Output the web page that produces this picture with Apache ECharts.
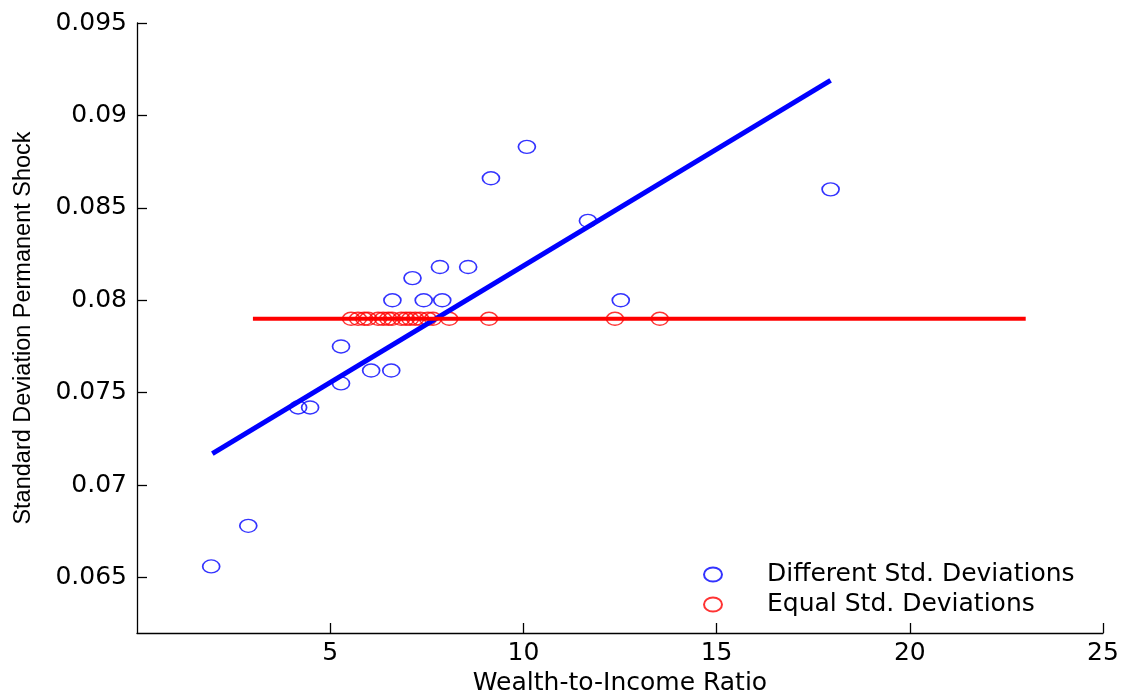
<!DOCTYPE html>
<html>
<head>
<meta charset="utf-8">
<script src="https://cdn.jsdelivr.net/npm/echarts@6/dist/echarts.min.js"></script>
<style>html,body{margin:0;padding:0;background:#fff}#c{width:1125px;height:694px}</style>
</head>
<body>
<div id="c"></div>
<script>
// Different Std. Deviations (blue circles)
const diffX = [1.92, 2.88, 4.17, 4.48, 5.28, 5.28, 6.06, 6.58, 6.61, 7.13, 7.42, 7.90, 7.84, 8.57, 9.16, 10.09, 11.67, 12.52, 17.95];
const diffY = [0.0656, 0.0678, 0.0742, 0.0742, 0.0775, 0.0755, 0.0762, 0.0762, 0.0800, 0.0812, 0.0800, 0.0800, 0.0818, 0.0818, 0.0866, 0.0883, 0.0843, 0.0800, 0.0860];
// Equal Std. Deviations (red circles)
const eqX = [5.54, 5.72, 5.88, 5.98, 6.24, 6.37, 6.50, 6.60, 6.84, 6.96, 7.07, 7.20, 7.33, 7.53, 7.66, 8.08, 9.11, 12.37, 13.53];
const eqY = [0.079, 0.079, 0.079, 0.079, 0.079, 0.079, 0.079, 0.079, 0.079, 0.079, 0.079, 0.079, 0.079, 0.079, 0.079, 0.079, 0.079, 0.079, 0.079];
// fitted lines
const diffFitX = [1.95, 17.95];
const diffFitY = [0.0717, 0.0919];
const eqFitX = [3, 23];
const eqFitY = [0.079, 0.079];
// ticks
const xTicks = [5, 10, 15, 20, 25];
const yTicks = [0.065, 0.07, 0.075, 0.08, 0.085, 0.09, 0.095];
const yTickLabels = ['0.065', '0.07', '0.075', '0.08', '0.085', '0.09', '0.095'];

const zip = (a, b) => a.map((v, i) => [v, b[i]]);
const ellipse = 'path://M0,50 A50,50 0 1,1 100,50 A50,50 0 1,1 0,50 Z';
const FONT = 'DejaVu Sans';

const chart = echarts.init(document.getElementById('c'), null, {renderer: 'canvas'});
chart.setOption({
  animation: false,
  backgroundColor: '#fff',
  grid: {left: 137, right: 22, top: 23, bottom: 61, containLabel: false, outerBoundsMode: 'none'},
  xAxis: {
    type: 'value', min: 0, max: 25,
    name: 'Wealth-to-Income Ratio', nameLocation: 'middle', nameGap: 37,
    nameTextStyle: {fontFamily: FONT, fontSize: 25, color: '#000'},
    axisLine: {show: true, lineStyle: {color: '#000', width: 1.3}},
    axisTick: {show: true, inside: true, length: 10, lineStyle: {color: '#000', width: 1.3}, customValues: xTicks},
    axisLabel: {fontFamily: FONT, fontSize: 25, color: '#000', margin: 8, customValues: xTicks},
    splitLine: {show: false}
  },
  yAxis: {
    type: 'value', min: 0.062, max: 0.095,
    name: 'Standard Deviation Permanent Shock', nameLocation: 'middle', nameGap: 101,
    nameTextStyle: {fontFamily: 'Liberation Sans', fontSize: 23.5, color: '#000'},
    axisLine: {show: true, lineStyle: {color: '#000', width: 1.3}},
    axisTick: {show: true, inside: true, length: 10, lineStyle: {color: '#000', width: 1.3}, customValues: yTicks},
    axisLabel: {fontFamily: FONT, fontSize: 25, color: '#000', margin: 10, customValues: yTicks,
      formatter: v => { const i = yTicks.findIndex(t => Math.abs(t - v) < 1e-9); return i >= 0 ? yTickLabels[i] : ''; }},
    splitLine: {show: false}
  },
  legend: {
    orient: 'vertical', left: 698, top: 557, itemWidth: 18, itemHeight: 14, itemGap: 5,
    data: [{name: 'Different Std. Deviations', icon: ellipse}, {name: 'Equal Std. Deviations', icon: ellipse}],
    symbolKeepAspect: false,
    textStyle: {fontFamily: FONT, fontSize: 25, color: '#000', padding: [0, 0, 0, 40]},
    selectedMode: false
  },
  series: [
    {
      name: 'Different Std. Deviations', type: 'scatter', data: zip(diffX, diffY),
      symbol: ellipse, symbolSize: [17, 13], symbolKeepAspect: false,
      itemStyle: {color: 'rgba(0,0,0,0)', borderColor: '#0000ff', borderWidth: 1.5}
    },
    {
      name: 'Equal Std. Deviations', type: 'scatter', data: zip(eqX, eqY),
      symbol: ellipse, symbolSize: [17, 13], symbolKeepAspect: false,
      itemStyle: {color: 'rgba(0,0,0,0)', borderColor: '#ff0000', borderWidth: 1.5}
    },
    {
      name: 'fitDiff', type: 'line', data: zip(diffFitX, diffFitY), showSymbol: false, symbol: 'none',
      lineStyle: {color: '#0000ff', width: 5}, silent: true
    },
    {
      name: 'fitEq', type: 'line', data: zip(eqFitX, eqFitY), showSymbol: false, symbol: 'none',
      lineStyle: {color: '#ff0000', width: 4}, silent: true
    }
  ]
});
</script>
</body>
</html>
